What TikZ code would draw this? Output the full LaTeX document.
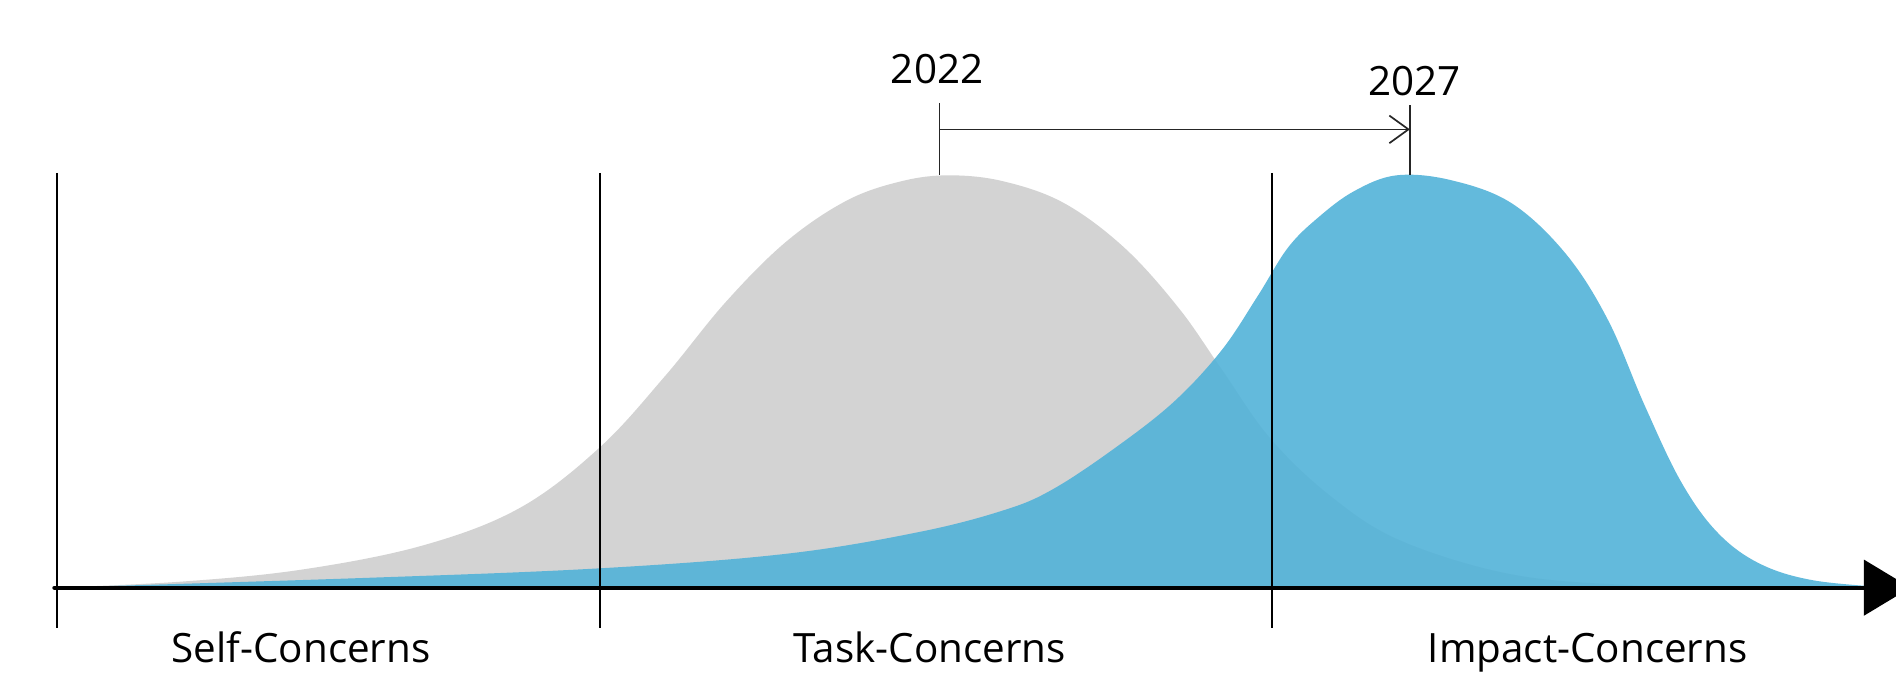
\documentclass[tikz,border=0pt]{standalone}
\usepackage{fontspec}
\setmainfont{Open Sans}
\usetikzlibrary{arrows.meta}
\definecolor{curvegray}{RGB}{211,211,211}
\definecolor{curveblue}{RGB}{82,178,216}
\tikzset{
  divider/.style={line width=0.9pt,black},
  lbl/.style={font=\fontsize{19}{21}\selectfont,inner sep=0pt,anchor=base},
  tick/.style={line width=0.8pt,black!85},
}
\begin{document}
\begin{tikzpicture}[x=0.02cm,y=-0.02cm]
\useasboundingbox (0,0) rectangle (1568,557);
% gray curve
\fill[curvegray] plot[smooth,tension=0.6] coordinates {(45,486) (150,481) (250,471) (350,451) (430,420) (496,370) (550,311) (600,250) (650,200) (700,166) (745,150) (785,145) (830,150) (880,168) (930,205) (975,255) (1010,305) (1050,362) (1100,410) (1158,447) (1250,475) (1350,484) (1450,486)} -- cycle;
% blue curve
\fill[curveblue,opacity=0.9] plot[smooth,tension=0.6] coordinates {(45,486) (300,478) (496,470) (650,458) (760,440) (830,422) (870,405) (920,372) (970,333) (1010,290) (1040,245) (1065,205) (1090,180) (1120,158) (1155,145) (1200,149) (1250,168) (1295,210) (1330,265) (1360,335) (1390,398) (1420,440) (1455,466) (1500,480) (1565,486)} -- cycle;
% dividers
\coordinate (d1t) at (47,143); \coordinate (d1b) at (47,519);
\coordinate (d2t) at (496,143); \coordinate (d2b) at (496,519);
\coordinate (d3t) at (1052,143); \coordinate (d3b) at (1052,519);
\draw[divider] (d1t) -- (d1b);
\draw[divider] (d2t) -- (d2b);
\draw[divider] (d3t) -- (d3b);
% axis
\coordinate (ax0) at (45,486);
\coordinate (ax1) at (1580,486);
\draw[line width=2pt,line cap=round,-{Triangle[length=22,width=26]}] (ax0) -- (ax1);
% year ticks
\coordinate (t1t) at (777,85); \coordinate (t1b) at (777,145);
\coordinate (t2t) at (1166,87); \coordinate (t2b) at (1166,145);
\draw[tick] (t1t) -- (t1b);
\draw[tick] (t2t) -- (t2b);
\coordinate (a1) at (777,107); \coordinate (a2) at (1166,107);
\draw[tick,-{Straight Barb[length=9,width=13]}] (a1) -- (a2);
% labels
\node[lbl] (y1) at (775,69) {2022};
\node[lbl] (y2) at (1170,79) {2027};
\node[lbl] (l1) at (249,548) {Self-Concerns};
\node[lbl] (l2) at (769,548) {Task-Concerns};
\node[lbl] (l3) at (1313,548) {Impact-Concerns};
\end{tikzpicture}
\end{document}
